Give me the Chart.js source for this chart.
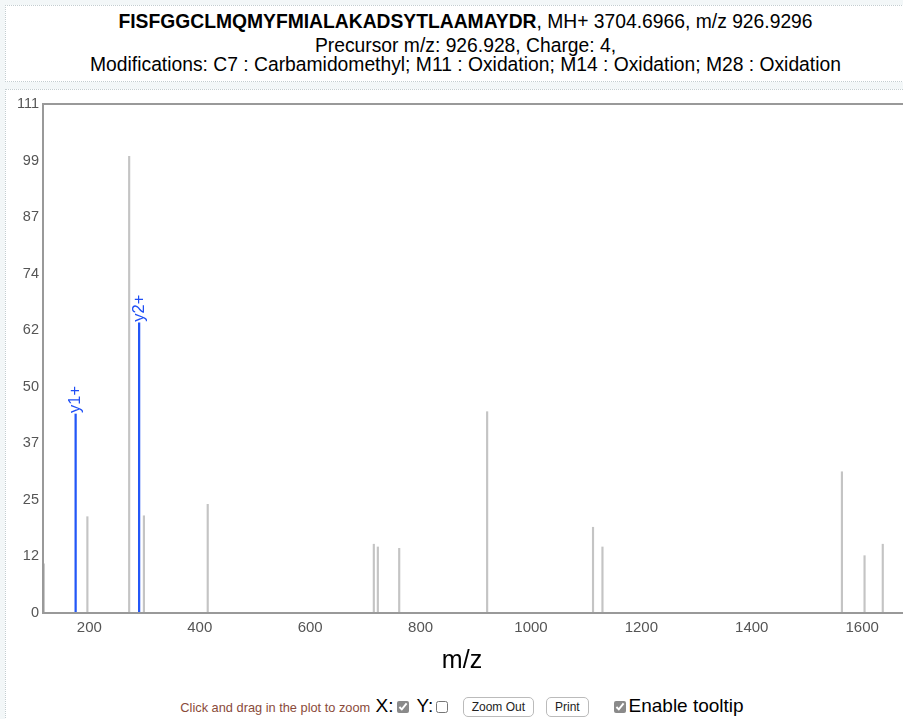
<!DOCTYPE html>
<html>
<head>
<meta charset="utf-8">
<script src="https://cdn.jsdelivr.net/npm/chart.js@4.4.1/dist/chart.umd.min.js"></script>
<style>
  body {
    margin: 0;
    width: 903px;
    height: 719px;
    overflow: hidden;
    position: relative;
    background: #f3f7f8;
    font-family: "Liberation Sans", Arial, Helvetica, sans-serif;
  }
  #head {
    position: absolute;
    left: 5px;
    top: 5px;
    width: 919px;
    height: 75px;
    background: #fff;
    border: 1px dotted #c3cdd0;
    text-align: center;
    color: #000;
    font-size: 19.3px;
    white-space: nowrap;
  }
  #head .l1 { padding-top: 5px; line-height: 21px; }
  #head .l2 { margin-top: 4px; line-height: 19px; }
  #head .l3 { line-height: 19px; }
  #plotBox {
    position: absolute;
    left: 5px;
    top: 89px;
    width: 925px;
    height: 640px;
    background: #fff;
    border-left: 1px dotted #c3cdd0;
    border-top: 1px dotted #c3cdd0;
  }
  #chartWrap {
    position: absolute;
    left: 0;
    top: 89px;
    width: 924px;
    height: 591px;
  }
  #controls {
    position: absolute;
    left: 0;
    top: 695px;
    width: 924px;
    text-align: center;
    font-size: 19px;
    color: #000;
    white-space: nowrap;
  }
  #controls .hint { color: #8a4b3a; font-size: 12.8px; }
  #controls input {
    margin: 0 3px;
    width: 12px;
    height: 12px;
    vertical-align: middle;
    accent-color: #8a8a8a;
  }
  #controls button {
    font-size: 12px;
    font-family: "Liberation Sans", Arial, sans-serif;
    color: #222;
    background: #fff;
    border: 1px solid #bbb;
    border-radius: 5px;
    padding: 2px 8px;
    margin: 0 6px;
    vertical-align: middle;
  }
</style>
</head>
<body>
<div id="head">
  <div class="l1"><b>FISFGGCLMQMYFMIALAKADSYTLAAMAYDR</b>, MH+ 3704.6966, m/z 926.9296</div>
  <div class="l2">Precursor m/z: 926.928, Charge: 4,</div>
  <div class="l3">Modifications: C7 : Carbamidomethyl; M11 : Oxidation; M14 : Oxidation; M28 : Oxidation</div>
</div>
<div id="plotBox"></div>
<div id="chartWrap"><canvas id="spectrumChart"></canvas></div>
<div id="controls">
  <span class="hint">Click and drag in the plot to zoom</span>
  X:<input type="checkbox" checked> Y:<input type="checkbox">
  <button>Zoom Out</button><button>Print</button>
  &nbsp;&nbsp;<input type="checkbox" checked>Enable tooltip
</div>
<script>
// data peak (unmatched, abu-abu)
const peakMz = [117.5, 196.4, 272.1, 298.8, 414.4, 715.3, 722.6, 761.3, 920.6, 1112.4, 1129.5, 1563.3, 1604.3, 1637.3];
const peakInt = [10.7, 21.0, 99.6, 21.2, 23.7, 15.0, 14.4, 14.1, 43.9, 18.7, 14.4, 30.8, 12.5, 15.0];

// ion yang cocok (biru)
const ionMz = [175.12, 290.15];
const ionInt = [43.4, 63.3];
const ionLabels = ["y1+", "y2+"];

// tick
const xTicks = [200, 400, 600, 800, 1000, 1200, 1400, 1600];
const yTickLabels = ["0", "12", "25", "37", "50", "62", "74", "87", "99", "111"];
const yMax = 111;

const fontFamily = "'Liberation Sans', Arial, sans-serif";

// plugin: garis atas frame + label ion
const peakLabelPlugin = {
  id: "peakLabels",
  afterDraw(chart) {
    const ctx = chart.ctx;
    const area = chart.chartArea;
    ctx.save();
    ctx.strokeStyle = "#999";
    ctx.lineWidth = 2;
    ctx.beginPath();
    ctx.moveTo(area.left - 1, area.top);
    ctx.lineTo(area.right, area.top);
    ctx.stroke();

    ctx.fillStyle = "#1f4ff5";
    ctx.font = "16.5px " + fontFamily;
    ctx.textAlign = "left";
    ctx.textBaseline = "middle";
    chart.getDatasetMeta(1).data.forEach((bar, i) => {
      ctx.save();
      ctx.translate(bar.x, bar.y - 1);
      ctx.rotate(-Math.PI / 2);
      ctx.fillText(ionLabels[i], 0, 0);
      ctx.restore();
    });
    ctx.restore();
  },
};

const chartData = {
  datasets: [
    {
      label: "peaks",
      data: peakMz.map((mz, i) => ({ x: mz, y: peakInt[i] })),
      backgroundColor: "#c4c4c4",
      barThickness: 1.5,
      grouped: false,
    },
    {
      label: "ions",
      data: ionMz.map((mz, i) => ({ x: mz, y: ionInt[i] })),
      backgroundColor: "#2357f7",
      barThickness: 1.6,
      grouped: false,
    },
  ],
};

const chartConfig = {
  type: "bar",
  data: chartData,
  options: {
    responsive: true,
    maintainAspectRatio: false,
    animation: false,
    events: [],
    layout: { padding: { top: 15, left: 0, right: 0, bottom: 0 } },
    scales: {
      x: {
        type: "linear",
        min: 116,
        max: 1712,
        offset: false,
        afterFit: (scale) => { scale.height = 33; },
        afterBuildTicks: (scale) => { scale.ticks = xTicks.map((v) => ({ value: v })); },
        grid: { display: false, drawTicks: false },
        border: { display: true, color: "#999", width: 2, z: 1 },
        ticks: {
          padding: 6,
          color: "#555",
          font: { size: 15, family: fontFamily },
          maxRotation: 0,
          callback: (value) => String(value),
        },
      },
      y: {
        min: 0,
        max: yMax,
        afterFit: (scale) => { scale.width = 43; },
        afterBuildTicks: (scale) => {
          scale.ticks = yTickLabels.map((t, i) => ({ value: (i * yMax) / (yTickLabels.length - 1) }));
        },
        grid: { display: false, drawTicks: false },
        border: { display: true, color: "#999", width: 2, z: 1 },
        ticks: {
          padding: 4,
          color: "#555",
          font: { size: 14.5, family: fontFamily },
          callback: (value, index) => yTickLabels[index],
        },
      },
    },
    plugins: {
      legend: { display: false },
      tooltip: { enabled: false },
      title: {
        display: true,
        position: "bottom",
        text: "m/z",
        color: "#000",
        font: { size: 25, weight: "normal", family: fontFamily },
        padding: { top: 0, bottom: 4 },
      },
    },
  },
  plugins: [peakLabelPlugin],
};

const spectrumChart = new Chart(document.getElementById("spectrumChart"), chartConfig);
</script>
</body>
</html>
